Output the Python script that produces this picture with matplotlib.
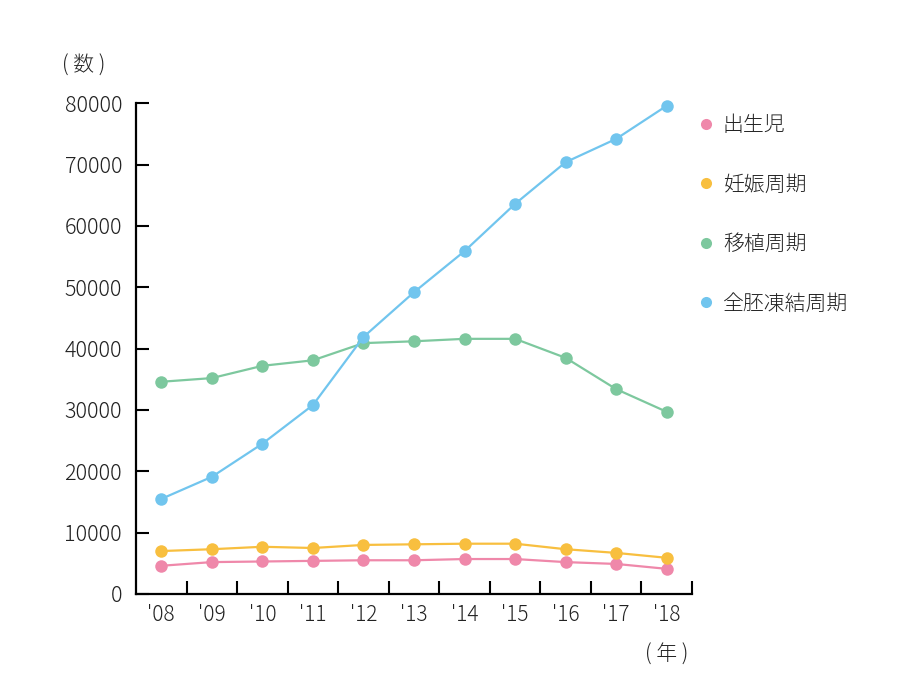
import matplotlib
matplotlib.use("Agg")
import matplotlib.pyplot as plt
from matplotlib.lines import Line2D
from matplotlib.ticker import FixedLocator

plt.rcParams['font.family'] = ['Noto Sans CJK JP', 'DejaVu Sans']
plt.rcParams['font.weight'] = 'light'

years = ["'08", "'09", "'10", "'11", "'12", "'13", "'14", "'15", "'16", "'17", "'18"]
births = [4600, 5200, 5300, 5400, 5500, 5500, 5700, 5700, 5200, 4900, 4100]
pregnancies = [7000, 7300, 7700, 7500, 8000, 8100, 8200, 8200, 7300, 6700, 5900]
transfers = [34600, 35200, 37200, 38100, 40900, 41200, 41600, 41600, 38500, 33400, 29700]
frozen_cycles = [15500, 19100, 24500, 30800, 41900, 49200, 55900, 63600, 70400, 74200, 79600]

series_names = ["出生児", "妊娠周期", "移植周期", "全胚凍結周期"]
colors = ["#ef88aa", "#f8bf3f", "#7dc89e", "#71c5ee"]
yticks = [0, 10000, 20000, 30000, 40000, 50000, 60000, 70000, 80000]

fig = plt.figure(figsize=(9, 7), dpi=100)
ax = fig.add_axes([136/900, 1-594/700, (692-136)/900, (594-103.3)/700])

x = list(range(len(years)))
data = [births, pregnancies, transfers, frozen_cycles]
for vals, c, z in zip(data, colors, [3, 4, 2, 5]):
    ax.plot(x, vals, color=c, lw=1.6, marker='o', markersize=9,
            markeredgewidth=0, clip_on=False, zorder=z)

ax.set_xlim(-0.5, len(years) - 0.5)
ax.set_ylim(0, 80000)
ax.set_yticks(yticks)
ax.set_yticklabels([str(v) for v in yticks])
ax.set_xticks(x)
ax.set_xticklabels(years)
ax.xaxis.set_minor_locator(FixedLocator([i + 0.5 for i in range(len(years))]))

text_color = "#222222"
ax.tick_params(axis='x', which='major', length=0, pad=7, labelsize=15, labelcolor=text_color)
ax.tick_params(axis='x', which='minor', direction='in', length=9.5, width=1.5, color='black')
ax.tick_params(axis='y', which='major', direction='in', length=9.5, width=1.5, pad=10,
               labelsize=15.5, labelcolor=text_color)

for s in ['top', 'right']:
    ax.spines[s].set_visible(False)
for s in ['left', 'bottom']:
    ax.spines[s].set_linewidth(1.6)
    ax.spines[s].set_color('black')

fig.text(84/900, 1-66/700, "( 数 )", ha='center', va='center', fontsize=15, color=text_color)
fig.text(667/900, 1-655/700, "( 年 )", ha='center', va='center', fontsize=15, color=text_color)

handles = [Line2D([], [], linestyle='none', marker='o', markersize=8, markeredgewidth=0, color=c)
           for c in colors]
leg = fig.legend(handles, series_names, loc='upper left', bbox_to_anchor=(700/900, 1-114/700),
                 frameon=False, fontsize=15, labelspacing=1.8, handlelength=0.6,
                 handletextpad=0.5, borderaxespad=0, borderpad=0, labelcolor=text_color)

fig.savefig("out.png", dpi=100)
